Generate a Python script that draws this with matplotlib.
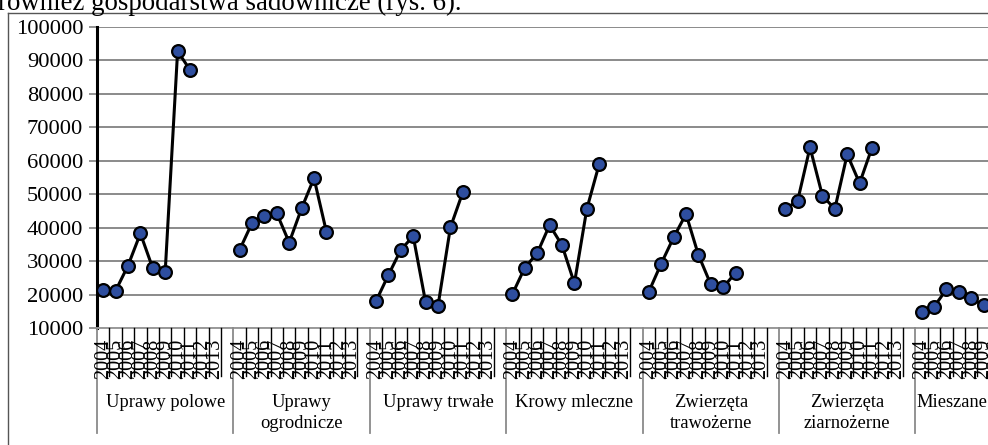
import matplotlib
matplotlib.use("Agg")
import matplotlib.pyplot as plt
from matplotlib.lines import Line2D
import matplotlib.transforms as mtransforms

plt.rcParams['font.family'] = ['Liberation Serif', 'DejaVu Serif']

# ---------------- data ----------------
groups = ["Uprawy polowe", "Uprawy\nogrodnicze", "Uprawy trwałe", "Krowy mleczne",
          "Zwierzęta\ntrawożerne", "Zwierzęta\nziarnożerne", "Mieszane"]
years = ["2004", "2005", "2006", "2007", "2008", "2009", "2010", "2011", "2012", "2013"]

uprawy_polowe = [21400, 21200, 28700, 38300, 27900, 26900, 92700, 87100]
uprawy_ogrodnicze = [33400, 41400, 43600, 44300, 35600, 45800, 54800, 38800]
uprawy_trwale = [18100, 25900, 33400, 37500, 17800, 16700, 40100, 50600]
krowy_mleczne = [20200, 28100, 32400, 40800, 34800, 23400, 45600, 59000]
zw_trawozerne = [20900, 29300, 37100, 44100, 31900, 23100, 22200, 26600]
zw_ziarnozerne = [45600, 48000, 64000, 49600, 45600, 61900, 53300, 63900]
mieszane = [14900, 16400, 21600, 20700, 18900, 16900]

series = [uprawy_polowe, uprawy_ogrodnicze, uprawy_trwale, krowy_mleczne,
          zw_trawozerne, zw_ziarnozerne, mieszane]

yticks = [10000, 20000, 30000, 40000, 50000, 60000, 70000, 80000, 90000, 100000]

# ---------------- layout ----------------
W, H = 988, 445
fig = plt.figure(figsize=(W / 100, H / 100), dpi=100)

slots = 11
ngroups = len(groups)
slot_px = 12.4
ax_left, ax_top, ax_bottom = 97, 26.7, 328.3
ax = fig.add_axes([ax_left / W, (H - ax_bottom) / H,
                   ngroups * slots * slot_px / W, (ax_bottom - ax_top) / H])

ax.set_xlim(0, ngroups * slots)
ax.set_ylim(yticks[0], yticks[-1])
ax.set_yticks(yticks)
ax.set_yticklabels([str(v) for v in yticks], fontsize=16.2)
ax.tick_params(axis='y', length=6, width=1.2, color='#808080', pad=4)
ax.set_xticks([])
ax.yaxis.grid(True, color='#8a8a8a', linewidth=1.4)
ax.set_axisbelow(True)
for s in ['top', 'right']:
    ax.spines[s].set_visible(False)
ax.spines['left'].set_linewidth(2.2)
ax.spines['left'].set_color('black')
ax.spines['bottom'].set_color('#9a9a9a')
ax.spines['bottom'].set_linewidth(1.4)

for g, vals in enumerate(series):
    xs = [g * slots + i + 0.5 for i in range(len(vals))]
    ax.plot(xs, vals, '-o', color='black', linewidth=2.2,
            markerfacecolor='#2E4E9F', markeredgecolor='black',
            markeredgewidth=1.6, markersize=9.2, zorder=3)

# x axis: cell lines, separators, labels
trans = mtransforms.blended_transform_factory(ax.transData, fig.transFigure)
def fy(px):
    return (H - px) / H

for g in range(ngroups + 1):
    x0 = g * slots
    fig.add_artist(Line2D([x0, x0], [fy(328.3), fy(433)], transform=trans,
                          color='#8a8a8a', linewidth=1.3))
    if g == ngroups:
        break
    for k in range(1, len(years) + 1):
        fig.add_artist(Line2D([x0 + k, x0 + k], [fy(328.3), fy(376)], transform=trans,
                              color='black', linewidth=1.0))
    for i, yr in enumerate(years):
        fig.text(x0 + i + 0.5, fy(339), yr, transform=trans, rotation=90,
                 ha='center', va='top', fontsize=14.6)
    if g == ngroups - 1:
        fig.text(x0 + 0.05, fy(394), groups[g], transform=trans,
                 ha='left', va='top', fontsize=13.3, linespacing=1.3)
    else:
        fig.text(x0 + slots / 2, fy(394), groups[g], transform=trans,
                 ha='center', va='top', fontsize=13.3, linespacing=1.3)

# chart border (top and left) and text above
fig.add_artist(Line2D([8 / W, 1.0], [fy(13.3), fy(13.3)], color='#555555', linewidth=1.0))
fig.add_artist(Line2D([8 / W, 8 / W], [fy(13.3), 0.0], color='#555555', linewidth=1.0))
fig.text(-0.002, fy(10), "również gospodarstwa sadownicze (rys. 6).",
         ha='left', va='baseline', fontsize=19.4)

fig.savefig("out.png", dpi=100)
